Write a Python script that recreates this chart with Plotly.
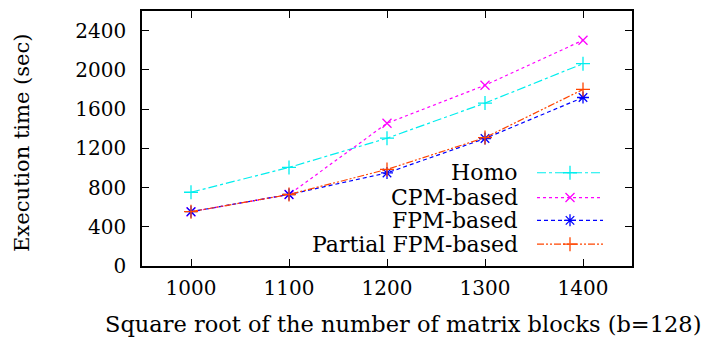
import plotly.graph_objects as go

x_vals = [1000, 1100, 1200, 1300, 1400]
homo = [752, 1005, 1303, 1661, 2063]
cpm = [552, 729, 1455, 1843, 2302]
fpm = [554, 729, 949, 1300, 1718]
partial = [554, 729, 985, 1309, 1800]
y_ticks = [0, 400, 800, 1200, 1600, 2000, 2400]
names = ["Homo", "CPM-based", "FPM-based", "Partial FPM-based"]

FONT = "DejaVu Serif"
W, H = 715, 339
L, R, T, B = 142, 632, 9, 266

styles = [
    dict(color="#00eeee", dash="dashdot", symbol="cross-thin", size=10),
    dict(color="#ff00ff", dash="dot", symbol="x-thin", size=9),
    dict(color="#0000ff", dash="4px,3px", symbol="asterisk", size=10),
    dict(color="#ff4500", dash="7px,2px,2px,2px,2px,2px", symbol="cross-thin", size=10),
]
series = [homo, cpm, fpm, partial]

fig = go.Figure()
for name, ys, st in zip(names, series, styles):
    fig.add_trace(go.Scatter(
        x=x_vals, y=ys, mode="lines+markers", name=name, showlegend=False,
        line=dict(color=st["color"], dash=st["dash"], width=1.2),
        marker=dict(symbol=st["symbol"], size=st["size"],
                    line=dict(color=st["color"], width=1.3), color=st["color"]),
    ))

# manual legend (text right-aligned, sample on the right) on an overlay axis
row_y = [172, 197, 220, 244]
for name, st, ry in zip(names, styles, row_y):
    yy = 1 - (ry - T) / (B - T)
    x0 = (537 - L) / (R - L)
    x1 = (603 - L) / (R - L)
    xm = (570 - L) / (R - L)
    fig.add_trace(go.Scatter(
        x=[x0, x1], y=[yy, yy], mode="lines", xaxis="x2", yaxis="y2", showlegend=False,
        line=dict(color=st["color"], dash=st["dash"], width=1.2), hoverinfo="skip"))
    fig.add_trace(go.Scatter(
        x=[xm], y=[yy], mode="markers", xaxis="x2", yaxis="y2", showlegend=False,
        marker=dict(symbol=st["symbol"], size=st["size"],
                    line=dict(color=st["color"], width=1.3), color=st["color"]),
        hoverinfo="skip"))
    fig.add_annotation(x=(520 - L) / (R - L), y=yy, xref="x2", yref="y2",
                       text=name, showarrow=False, xanchor="right", yanchor="middle",
                       font=dict(family=FONT, size=22, color="black"))

axis_common = dict(showline=True, linecolor="black", linewidth=1.5, mirror="ticks",
                   ticks="inside", ticklen=7, tickwidth=1.2, tickcolor="black",
                   showgrid=False, zeroline=False,
                   tickfont=dict(family=FONT, size=20, color="black"))

fig.update_layout(
    width=W, height=H, margin=dict(l=L, r=W - R, t=T, b=H - B),
    plot_bgcolor="white", paper_bgcolor="white", showlegend=False,
    xaxis=dict(range=[950, 1450], tickvals=x_vals, ticklabelstandoff=3, **axis_common),
    yaxis=dict(range=[0, 2600], tickvals=y_ticks, ticklabelstandoff=10, **axis_common),
    xaxis2=dict(range=[0, 1], overlaying="x", visible=False),
    yaxis2=dict(range=[0, 1], overlaying="y", visible=False),
)

fig.add_annotation(text="Square root of the number of matrix blocks (b=128)",
                   xref="paper", yref="paper", x=(403 - L) / (R - L), y=(B - 324) / (B - T),
                   showarrow=False, xanchor="center", yanchor="middle",
                   font=dict(family=FONT, size=22.5, color="black"))
fig.add_annotation(text="Execution time (sec)", textangle=-90,
                   xref="paper", yref="paper", x=(22 - L) / (R - L), y=(B - 142) / (B - T),
                   showarrow=False, xanchor="center", yanchor="middle",
                   font=dict(family=FONT, size=21, color="black"))

fig.write_html("out.html")
